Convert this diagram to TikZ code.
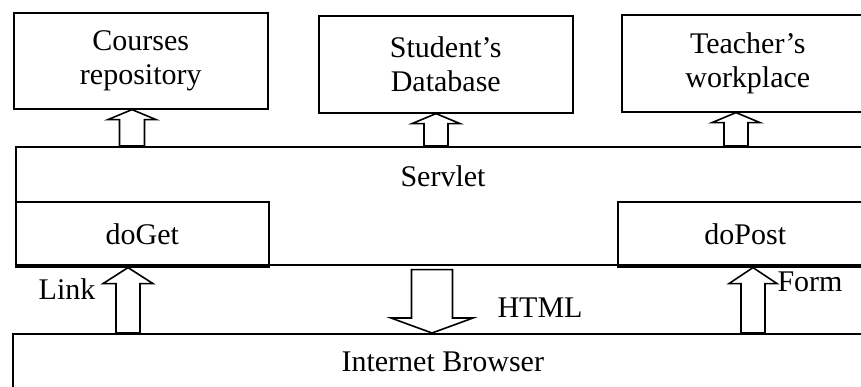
\documentclass[tikz,border=0pt]{standalone}
\usepackage{fontspec}
\setmainfont{Liberation Serif}
\usetikzlibrary{calc}
\tikzset{
  box/.style={draw, line width=1.6pt, rectangle, anchor=north west, inner sep=0pt, align=center, font=\fontsize{30}{34}\selectfont},
  lbl/.style={inner sep=0pt, font=\fontsize{30}{34}\selectfont},
  blockarrow/.style={draw, fill=white, line width=1.6pt, line join=miter}
}
\newcommand\blockup[6]{%
  \draw[blockarrow] let \p1=(#2), \p2=(#3) in
    ({#1-#4},\y1) -- ({#1-#4},{\y2-#6pt}) -- ({#1-#5},{\y2-#6pt}) -- (#1,\y2)
    -- ({#1+#5},{\y2-#6pt}) -- ({#1+#4},{\y2-#6pt}) -- ({#1+#4},\y1) -- cycle;}
\newcommand\blockdown[7]{%
  \draw[blockarrow] let \p1=(#2), \p2=(#3) in
    ({#1-#4},{\y1-#7pt}) -- ({#1-#4},{\y2+#6pt}) -- ({#1-#5},{\y2+#6pt}) -- (#1,\y2)
    -- ({#1+#5},{\y2+#6pt}) -- ({#1+#4},{\y2+#6pt}) -- ({#1+#4},{\y1-#7pt}) -- cycle;}
\begin{document}
\begin{tikzpicture}[x=1pt,y=-1pt]
\useasboundingbox (0,0) rectangle (861,387);
\clip (0,0) rectangle (861,387);
\fill[white] (0,0) rectangle (861,387);
% boxes
\node[box, minimum width=254, minimum height=96] (courses) at (13,12) {Courses\\repository};
\node[box, minimum width=254, minimum height=97] (student) at (318,15) {Student’s\\Database};
\node[box, minimum width=252, minimum height=97] (teacher) at (621,14) {Teacher’s\\workplace};
\node[box, minimum width=857, minimum height=118] (servlet) at (15,146) {};
\node[lbl] (servletlbl) at (443,176.5) {Servlet};
\node[box, minimum width=253, minimum height=65] (doget) at (15,201) {doGet};
\node[box, minimum width=255, minimum height=65] (dopost) at (617,201) {doPost};
\node[box, minimum width=860, minimum height=57] (browser) at (12,333) {Internet Browser};
% arrows
\blockup{132}{servlet.north}{courses.south}{12.5}{24}{10}
\blockup{436}{servlet.north}{student.south}{12}{24}{10}
\blockup{736}{servlet.north}{teacher.south}{12}{24}{10}
\blockup{128}{browser.north}{doget.south}{12}{25}{16}
\blockup{753}{browser.north}{dopost.south}{12}{24}{16}
\blockdown{432}{servlet.south}{browser.north}{20.5}{41}{15}{4}
% labels
\node[lbl] (link) at (67,289) {Link};
\node[lbl] (html) at (540,307.5) {HTML};
\node[lbl] (form) at (810,282) {Form};
\end{tikzpicture}
\end{document}
